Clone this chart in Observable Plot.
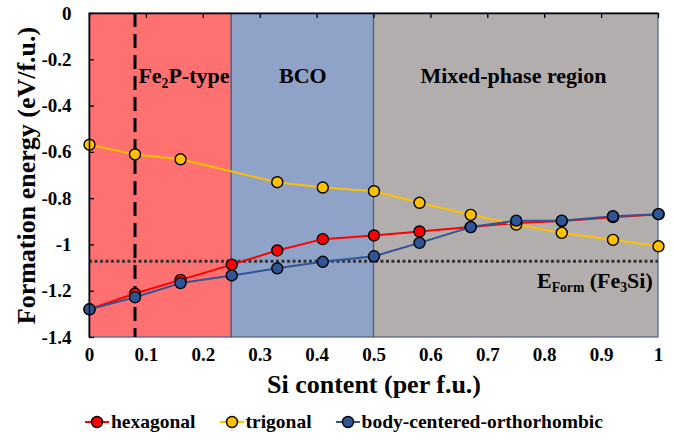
<!DOCTYPE html>
<html>
<head>
<meta charset="utf-8">
<script src="https://cdn.jsdelivr.net/npm/d3@7"></script>
<script src="https://cdn.jsdelivr.net/npm/@observablehq/plot@0.6"></script>
<style>
  html, body { margin: 0; padding: 0; background: #fff; }
  #chart { width: 674px; }
  #chart svg text, #chart svg tspan { font-family: "Liberation Serif", "Times New Roman", serif !important; font-weight: bold !important; }
  .legend { display: flex; align-items: center; height: 40px; padding-left: 85px; gap: 24px;
    font-family: "Liberation Serif", "Times New Roman", serif; font-weight: bold; font-size: 19.5px; color: #000; }
  .legend .item { display: flex; align-items: center; gap: 2px; }
  .legend svg { display: block; }
</style>
</head>
<body>
<div id="chart"></div>
<script>
// ---- data ----
const siContent = [0, 0.08, 0.16, 0.25, 0.33, 0.41, 0.5, 0.58, 0.67, 0.75, 0.83, 0.92, 1];
const hexagonal = [-1.278, -1.210, -1.151, -1.085, -1.024, -0.975, -0.959, -0.942, -0.923, -0.905, -0.897, -0.880, -0.867];
const trigonalSi = [0, 0.08, 0.16, 0.33, 0.41, 0.5, 0.58, 0.67, 0.75, 0.83, 0.92, 1];
const trigonal = [-0.567, -0.609, -0.630, -0.729, -0.752, -0.768, -0.818, -0.870, -0.912, -0.948, -0.978, -1.006];
const bco = [-1.278, -1.226, -1.165, -1.132, -1.101, -1.073, -1.049, -0.991, -0.923, -0.895, -0.895, -0.876, -0.867];
const eFormFe3Si = -1.07;
const fe2pLine = 0.08;

const regionNames = ["Fe_{2}P-type", "BCO", "Mixed-phase region"];
const regionStart = [0, 0.25, 0.5];
const regionEnd = [0.25, 0.5, 1];
const regionLabelX = [0.166, 0.375, 0.745];
const regionLabelY = -0.272;
const regionColors = ["#FF7171", "#8FA2C7", "#B2AEAD"];

const xTicks = [0, 0.1, 0.2, 0.3, 0.4, 0.5, 0.6, 0.7, 0.8, 0.9, 1];
const yTicks = [0, -0.2, -0.4, -0.6, -0.8, -1, -1.2, -1.4];

const seriesNames = ["hexagonal", "trigonal", "body-centered-orthorhombic"];
const seriesColors = ["#FF0000", "#FFC000", "#2F5597"];

// ---- build tables ----
const regions = regionNames.map((name, i) => ({name, x1: regionStart[i], x2: regionEnd[i], color: regionColors[i], lx: regionLabelX[i]}));
const series = [
  siContent.map((x, i) => ({x, y: hexagonal[i]})),
  trigonalSi.map((x, i) => ({x, y: trigonal[i]})),
  siContent.map((x, i) => ({x, y: bco[i]}))
];

const W = 674, H = 402;
const mL = 89, mR = 16, mT = 13, mB = 65;
const frameW = W - mL - mR, frameH = H - mT - mB;

const seriesMarks = series.flatMap((data, i) => [
  Plot.line(data, {x: "x", y: "y", stroke: seriesColors[i], strokeWidth: 2}),
  Plot.dot(data, {x: "x", y: "y", r: 5.5, fill: seriesColors[i], stroke: "#000", strokeWidth: 1.4})
]);

const plot = Plot.plot({
  width: W, height: H,
  marginLeft: mL, marginRight: mR, marginTop: mT, marginBottom: mB,
  style: {fontFamily: "Liberation Serif, serif", fontWeight: "bold", fontSize: "19px", color: "#000", background: "#fff", overflow: "visible"},
  x: {domain: [0, 1]},
  y: {domain: [-1.4, 0]},
  marks: [
    Plot.rect(regions, {x1: "x1", x2: "x2", y1: -1.4, y2: 0, fill: "color", stroke: "#4B5D82", strokeWidth: 1.2}),
    Plot.text(regions, {x: "lx", y: regionLabelY, text: "name", fontSize: 22, fill: "#000"}),
    Plot.ruleX([fe2pLine], {stroke: "#000", strokeWidth: 3, strokeDasharray: "14,7"}),
    Plot.ruleY([eFormFe3Si], {stroke: "#333", strokeWidth: 3, strokeDasharray: "3,2.5"}),
    Plot.text(["E_{Form} (Fe_{3}Si)"], {x: 0.99, y: -1.154, textAnchor: "end", fontSize: 22, fill: "#000"}),
    ...seriesMarks,
    // axes lines and inward ticks
    Plot.ruleX([0], {stroke: "#000", strokeWidth: 1.5}),
    Plot.ruleY([0], {stroke: "#000", strokeWidth: 1.5}),
    Plot.ruleX(xTicks, {x: d => d, stroke: "#000", strokeWidth: 1.3, insetBottom: frameH - 5}),
    Plot.ruleY(yTicks, {y: d => d, stroke: "#000", strokeWidth: 1.3, insetRight: frameW - 5}),
    Plot.axisX({anchor: "bottom", ticks: xTicks, tickSize: 0, tickPadding: 10, tickFormat: d => String(d), label: null, fontSize: 19}),
    Plot.axisY({anchor: "left", ticks: yTicks, tickSize: 0, tickPadding: 18, tickFormat: d => String(d), label: null, fontSize: 19}),
    Plot.text(["Si content (per f.u.)"], {frameAnchor: "bottom", textAnchor: "middle", lineAnchor: "middle", dy: 47, fontSize: 26, fill: "#000"}),
    Plot.text(["Formation energy (eV/f.u.)"], {frameAnchor: "left", textAnchor: "middle", lineAnchor: "middle", dx: -63, rotate: -90, fontSize: 26, fill: "#000"})
  ]
});

// render subscript markup "_{...}" as tspans
d3.select(plot).selectAll("text").each(function() {
  const t = this.textContent;
  if (!t.includes("_{")) return;
  const fs = 22;
  const parts = t.split(/(_\{[^}]*\})/).filter(s => s.length);
  this.textContent = "";
  const sel = d3.select(this);
  let shifted = false;
  for (const p of parts) {
    const sub = p.startsWith("_{");
    const ts = sel.append("tspan").text(sub ? p.slice(2, -1) : p);
    if (sub) {
      ts.attr("font-size", fs * 0.62).attr("dy", shifted ? null : fs * 0.22);
      shifted = true;
    } else if (shifted) {
      ts.attr("dy", -fs * 0.22);
      shifted = false;
    }
  }
});

document.getElementById("chart").appendChild(plot);

// legend (HTML, below the SVG)
const legend = document.createElement("div");
legend.className = "legend";
seriesNames.forEach((name, i) => {
  const item = document.createElement("div");
  item.className = "item";
  const sw = d3.create("svg").attr("width", 24).attr("height", 14);
  sw.append("line").attr("x1", 0).attr("x2", 24).attr("y1", 7).attr("y2", 7).attr("stroke", seriesColors[i]).attr("stroke-width", 2);
  sw.append("circle").attr("cx", 12).attr("cy", 7).attr("r", 5.5).attr("fill", seriesColors[i]).attr("stroke", "#000").attr("stroke-width", 1.4);
  item.appendChild(sw.node());
  const label = document.createElement("span");
  label.textContent = name;
  item.appendChild(label);
  legend.appendChild(item);
});
document.getElementById("chart").appendChild(legend);
</script>
</body>
</html>
